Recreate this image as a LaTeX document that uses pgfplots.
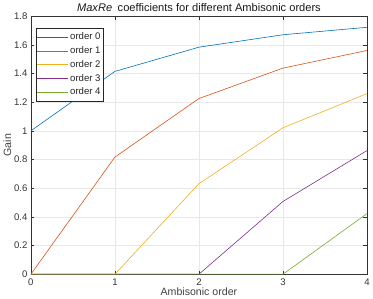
\documentclass[border=0pt]{standalone}
\usepackage{pgfplots}
\pgfplotsset{compat=1.18}
\usepackage{fontspec}
\setmainfont{Liberation Sans}
\definecolor{c0}{rgb}{0,0.447,0.741}
\definecolor{c1}{rgb}{0.85,0.325,0.098}
\definecolor{c2}{rgb}{0.929,0.694,0.125}
\definecolor{c3}{rgb}{0.494,0.184,0.556}
\definecolor{c4}{rgb}{0.466,0.674,0.188}
\begin{document}
\begin{tikzpicture}
\begin{axis}[
  scale only axis,
  width=332bp, height=255bp,
  xmin=0, xmax=4, ymin=0, ymax=1.8,
  clip=false,
  xtick={0,1,2,3,4},
  ytick={0,0.2,0.4,0.6,0.8,1,1.2,1.4,1.6,1.8},
  yticklabel style={/pgf/number format/fixed,/pgf/number format/precision=1},
  /pgf/number format/assume math mode=true,
  tick align=inside,
  major tick length=3.5bp,
  tick style={black!80, line width=0.4pt},
  grid=major,
  grid style={gray!18, line width=0.4pt},
  axis line style={black!80, line width=0.4pt},
  font=\fontsize{9.5}{11}\selectfont,
  ticklabel style={font=\fontsize{9.5}{11}\selectfont, text=black!80},
  xticklabel style={yshift=-1bp},
  xlabel={Ambisonic order}, ylabel={Gain},
  label style={font=\fontsize{10.5}{12}\selectfont, text=black!75},
  xlabel style={yshift=5bp},
  ylabel style={yshift=-4bp},
  title={\textit{MaxRe}\enspace coefficients for different Ambisonic orders},
  title style={font=\fontsize{11}{13}\selectfont, text=black!90, yshift=-5bp},
  legend style={at={(0.015,0.953)}, anchor=north west, draw=black!85, line width=0.5pt,
    font=\fontsize{9.5}{11}\selectfont, text=black!85, inner sep=1pt, row sep=1.2pt,
    inner ysep=2.5pt},
  legend cell align=left,
  legend image code/.code={\draw[#1] (0cm,0cm) -- (30bp,0cm);},
  every axis plot/.append style={line width=0.6pt},
]
\addplot[c0] coordinates {(0,1) (1,1.4142) (2,1.583) (3,1.6696) (4,1.7216)};
\addplot[c1] coordinates {(0,0) (1,0.8165) (2,1.225) (3,1.437) (4,1.560)};
\addplot[c2] coordinates {(0,0) (1,0) (2,0.631) (3,1.021) (4,1.259)};
\addplot[c3] coordinates {(0,0) (1,0) (2,0) (3,0.507) (4,0.862)};
\addplot[c4] coordinates {(0,0) (1,0) (2,0) (3,0) (4,0.4225)};
\legend{order 0, order 1, order 2, order 3, order 4}
\end{axis}
\end{tikzpicture}
\end{document}
